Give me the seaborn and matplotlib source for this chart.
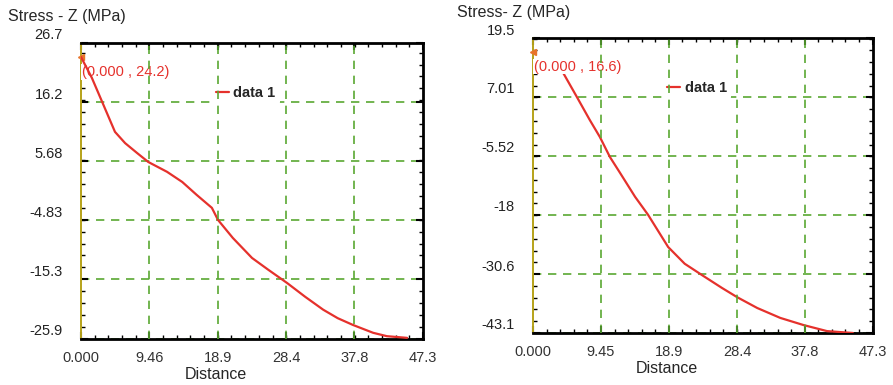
import numpy as np
import pandas as pd
import seaborn as sns
import matplotlib.pyplot as plt
import matplotlib.transforms as mtransforms
from matplotlib.ticker import AutoMinorLocator

sns.set_theme(style="white")
plt.rcParams['font.family'] = ['Liberation Sans', 'DejaVu Sans']

# left panel data (Distance, Stress-Z)
left_x = [0.0, 1.5, 3.0, 4.7, 6.1, 7.75, 9.3, 11.9, 14.0, 16.0, 18.1, 18.95, 21.0,
          23.65, 25.9, 28.5, 31.0, 33.5, 35.5, 37.6, 40.4, 42.3, 45.1]
left_y = [24.2, 20.5, 16.0, 10.9, 8.9, 7.15, 5.55, 3.8, 2.0, -0.3, -2.6, -4.75, -7.95,
          -11.5, -13.6, -15.95, -18.4, -20.7, -22.2, -23.4, -24.8, -25.4, -25.7]
left_pick = (0.0, 24.2)
left_xticks = [0.0, 9.46, 18.9, 28.4, 37.8, 47.3]
left_xlabels = ["0.000", "9.46", "18.9", "28.4", "37.8", "47.3"]
left_yticks = [26.7, 16.2, 5.68, -4.83, -15.3, -25.9]
left_ylabels = ["26.7", "16.2", "5.68", "-4.83", "-15.3", "-25.9"]

# right panel data
right_x = [4.2, 6.1, 7.9, 9.3, 10.7, 12.1, 14.2, 16.0, 18.8, 21.1, 23.6, 26.3,
           28.4, 31.2, 34.4, 37.6, 40.9, 44.5]
right_y = [12.1, 7.0, 2.1, -1.5, -5.75, -9.1, -14.2, -18.0, -24.85, -28.4, -30.9,
           -33.55, -35.5, -37.8, -39.9, -41.4, -42.7, -43.1]
right_pick = (0.0, 16.6)
right_xticks = [0.0, 9.45, 18.9, 28.4, 37.8, 47.3]
right_xlabels = ["0.000", "9.45", "18.9", "28.4", "37.8", "47.3"]
right_yticks = [19.5, 7.01, -5.52, -18.0, -30.6, -43.1]
right_ylabels = ["19.5", "7.01", "-5.52", "-18", "-30.6", "-43.1"]

red = "#e5312c"
grid_green = "#5aa832"

fig = plt.figure(figsize=(8.93, 3.85), dpi=100)
ax1 = fig.add_axes([0.0907, 0.1195, 0.383, 0.769])
ax2 = fig.add_axes([0.5969, 0.1351, 0.3807, 0.766])


def draw_panel(ax, xs, ys, pick, xticks, xlabels, yticks, ylabels, ylabel_text,
               ylabel_x, ylabel_y, line_on_top, xlabel_y):
    df = pd.DataFrame({"Distance": xs, "Stress": ys})
    sns.lineplot(data=df, x="Distance", y="Stress", ax=ax, color=red, linewidth=1.6,
                 label="data 1", zorder=5.5 if line_on_top else 3)
    ax.plot([pick[0]], [pick[1]], marker="<", markersize=4, color="#e8742a",
            linestyle="none", zorder=4, clip_on=False)
    ax.annotate(f"({pick[0]:.3f} , {pick[1]:.1f})", xy=pick, xytext=(1, -15),
                textcoords="offset pixels", ha="left", va="center", color=red, fontsize=10.5,
                bbox=dict(facecolor="white", edgecolor="none", pad=0.5), zorder=5)

    ax.set_xlim(xticks[0], xticks[-1])
    ax.set_ylim(yticks[-1], yticks[0])
    ax.set_xticks(xticks)
    ax.set_xticklabels(xlabels, fontsize=10.5, color="#333333")
    ax.set_yticks(yticks)
    ax.set_yticklabels(ylabels, fontsize=10.5, color="#222222")
    ax.xaxis.set_minor_locator(AutoMinorLocator(5))
    ax.yaxis.set_minor_locator(AutoMinorLocator(5))
    ax.tick_params(which="major", direction="in", length=5, width=1.5, top=True, right=True,
                   bottom=True, left=True, colors="black")
    ax.tick_params(which="minor", direction="in", length=3, width=1, top=True, right=True,
                   bottom=True, left=True, colors="black")
    for lab in ax.get_xticklabels():
        lab.set_color("#333333")
    for lab in ax.get_yticklabels():
        lab.set_color("#222222")
    ax.tick_params(axis="x", which="major", pad=9)
    ax.tick_params(axis="y", which="major", pad=13)
    offset = mtransforms.ScaledTranslation(0, 9 / 100, fig.dpi_scale_trans)
    for lab in ax.get_yticklabels():
        lab.set_transform(lab.get_transform() + offset)

    # horizontal grid below legend, vertical grid above it
    ax.grid(axis="y", color=grid_green, linestyle=(0, (5, 4)), linewidth=1.2)
    ax.grid(axis="x", visible=False)
    for xt in xticks[1:-1]:
        ax.axvline(xt, color=grid_green, linestyle=(0, (5, 4)), linewidth=1.2, zorder=6)
    ax.set_axisbelow(True)

    for side in ["top", "right", "bottom"]:
        ax.spines[side].set_color("black")
        ax.spines[side].set_linewidth(2)
    ax.spines["left"].set_color("#b5a21a")
    ax.spines["left"].set_linewidth(1.4)

    ax.set_xlabel("Distance", fontsize=11.5)
    ax.xaxis.set_label_coords(0.395, xlabel_y)
    ax.set_ylabel("")

    leg = ax.legend(loc="center left", bbox_to_anchor=(0.36, 0.83), frameon=True,
                    handlelength=0.9, handletextpad=0.3, borderpad=0.3,
                    prop={"weight": "bold", "size": 10.5})
    leg.get_frame().set_facecolor("white")
    leg.get_frame().set_edgecolor("none")
    leg.get_frame().set_alpha(1)
    leg.set_zorder(5)

    fig.text(ylabel_x, ylabel_y, ylabel_text, fontsize=11.5, ha="left", va="center")


draw_panel(ax1, left_x, left_y, left_pick, left_xticks, left_xlabels, left_yticks,
           left_ylabels, "Stress - Z (MPa)", 8 / 893, 1 - 17 / 385, True, -0.096)
draw_panel(ax2, right_x, right_y, right_pick, right_xticks, right_xlabels, right_yticks,
           right_ylabels, "Stress- Z (MPa)", 457 / 893, 1 - 13 / 385, False, -0.094)

fig.savefig("out.png", dpi=100)
